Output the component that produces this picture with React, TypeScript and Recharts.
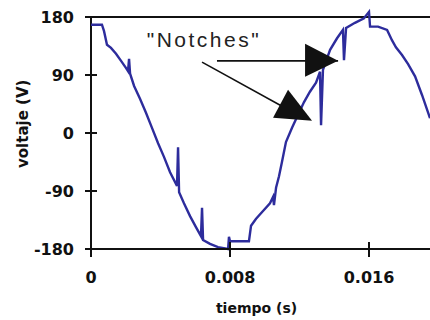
import React from "react";
import {
  LineChart,
  Line,
  XAxis,
  YAxis,
  ReferenceLine,
  ReferenceDot,
} from "recharts";

// sampled waveform: time in seconds, voltage in volts
const tiempo = [
  0, 0.00063, 0.00075, 0.00092, 0.00115, 0.00144, 0.00173, 0.00201, 0.00213,
  0.00219, 0.00225, 0.00248, 0.00282, 0.00317, 0.00351, 0.00386, 0.0042,
  0.00455, 0.00495, 0.00501, 0.00507, 0.00535, 0.0057, 0.00604, 0.00633,
  0.00639, 0.00645, 0.00685, 0.00731, 0.00789, 0.00794, 0.008, 0.00909,
  0.00921, 0.0095, 0.0099, 0.0103, 0.01048, 0.01053, 0.01065, 0.01082,
  0.01099, 0.01122, 0.01157, 0.01191, 0.01226, 0.0126, 0.01295, 0.01318,
  0.01324, 0.01335, 0.01376, 0.01416, 0.0145, 0.01456, 0.01468, 0.01519,
  0.01571, 0.016, 0.01606, 0.01652, 0.01704, 0.01732, 0.01755, 0.0179,
  0.01825, 0.01865, 0.01905, 0.01951,
];
const voltaje = [
  168, 168, 158, 137, 132, 123, 112, 101, 96, 115, 92, 73, 53, 31, 8, -16,
  -37, -61, -82, -22, -92, -109, -129, -146, -160, -116, -166, -172, -177,
  -180, -161, -168, -168, -144, -133, -121, -109, -99, -112, -85, -67, -45,
  -14, 8, 28, 48, 64, 78, 95, 12, 98, 129, 147, 160, 113, 163, 171, 178, 188,
  165, 165, 160, 144, 133, 121, 107, 88, 59, 23,
];
const yTicks = [-180, -90, 0, 90, 180];
const xTicks = [0, 0.008, 0.016];

const data = tiempo.map((t, i) => ({ t, v: voltaje[i] }));

const tickFont = "'DejaVu Sans', sans-serif";

const YTick = (props: any) => {
  const { x, y, payload } = props;
  return (
    <g>
      <line x1={x - 6} y1={y} x2={x + 6} y2={y} stroke="#111" strokeWidth={2} />
      <text
        x={x - 17}
        y={y}
        textAnchor="end"
        dominantBaseline="central"
        fontFamily={tickFont}
        fontWeight="bold"
        fontSize={16}
        fill="#111"
      >
        {payload.value}
      </text>
    </g>
  );
};

const XTick = (props: any) => {
  const { x, y, payload } = props;
  return (
    <g>
      <line x1={x} y1={y - 7} x2={x} y2={y + 8} stroke="#111" strokeWidth={2} />
      <text
        x={x}
        y={y + 28}
        textAnchor="middle"
        dominantBaseline="central"
        fontFamily={tickFont}
        fontWeight="bold"
        fontSize={16}
        fill="#111"
      >
        {String(payload.value)}
      </text>
    </g>
  );
};

// arrow shapes: a plain line with a filled head drawn around its end point
const flatArrow = (p: any) => (
  <g>
    <line x1={p.x1} y1={p.y1} x2={p.x2} y2={p.y2} stroke="#111" strokeWidth={1.6} />
    <polygon
      points={`${p.x2},${p.y2} ${p.x2 - 33},${p.y2 - 17} ${p.x2 - 33},${p.y2 + 16}`}
      fill="#111"
    />
  </g>
);

const slantArrow = (p: any) => (
  <g>
    <line x1={p.x1} y1={p.y1} x2={p.x2} y2={p.y2} stroke="#111" strokeWidth={1.6} />
    <polygon
      points={`${p.x2 - 4},${p.y2 - 22} ${p.x2 - 19},${p.y2 + 6} ${p.x2 + 20},${p.y2 + 9}`}
      fill="#111"
    />
  </g>
);

const notchesLabel = (p: any) => (
  <text
    x={p.cx}
    y={p.cy}
    textAnchor="middle"
    fontFamily="'Liberation Sans', Arial, sans-serif"
    fontSize={21}
    letterSpacing={2.5}
    fill="#222"
  >
    "Notches"
  </text>
);

export default function App() {
  return (
    <div style={{ position: "absolute", left: 0, top: 0, background: "#fff" }}>
      <LineChart
        width={430}
        height={320}
        data={data}
        margin={{ top: 10.56, right: 0, bottom: 0, left: 0 }}
      >
        <XAxis
          dataKey="t"
          type="number"
          domain={[0, 0.01951]}
          ticks={xTicks}
          height={71}
          tickSize={0}
          tickMargin={0}
          tickLine={false}
          tick={<XTick />}
          axisLine={{ stroke: "#111", strokeWidth: 2 }}
          label={{
            content: ({ viewBox }: any) => (
              <text
                x={viewBox.x + viewBox.width / 2 - 4}
                y={viewBox.y + 64}
                textAnchor="middle"
                fontFamily={tickFont}
                fontWeight="bold"
                fontSize={14}
                fill="#111"
              >
                tiempo (s)
              </text>
            ),
          }}
        />
        <YAxis
          type="number"
          domain={[-180, 190]}
          ticks={yTicks}
          width={91}
          tickSize={0}
          tickMargin={0}
          tickLine={false}
          axisLine={false}
          tick={<YTick />}
          label={{
            content: ({ viewBox }: any) => {
              const cy = viewBox.y + viewBox.height / 2 - 6;
              return (
                <text
                  x={23}
                  y={cy}
                  transform={`rotate(-90, 23, ${cy})`}
                  textAnchor="middle"
                  dominantBaseline="central"
                  fontFamily={tickFont}
                  fontWeight="bold"
                  fontSize={15}
                  fill="#111"
                >
                  voltaje (V)
                </text>
              );
            },
          }}
        />
        <ReferenceLine
          segment={[
            { x: 0, y: -180 },
            { x: 0, y: 180 },
          ]}
          stroke="#111"
          strokeWidth={2}
        />
        <ReferenceLine y={180} stroke="#111" strokeWidth={2} />
        <Line
          dataKey="v"
          type="linear"
          stroke="#2d2c9c"
          strokeWidth={2.4}
          dot={false}
          isAnimationActive={false}
        />
        <ReferenceLine
          segment={[
            { x: 0.00725, y: 112 },
            { x: 0.01422, y: 112 },
          ]}
          shape={flatArrow}
        />
        <ReferenceLine
          segment={[
            { x: 0.00639, y: 110 },
            { x: 0.01157, y: 33 },
          ]}
          shape={slantArrow}
        />
        <ReferenceDot x={0.0065} y={133} r={0} shape={notchesLabel} />
      </LineChart>
    </div>
  );
}
